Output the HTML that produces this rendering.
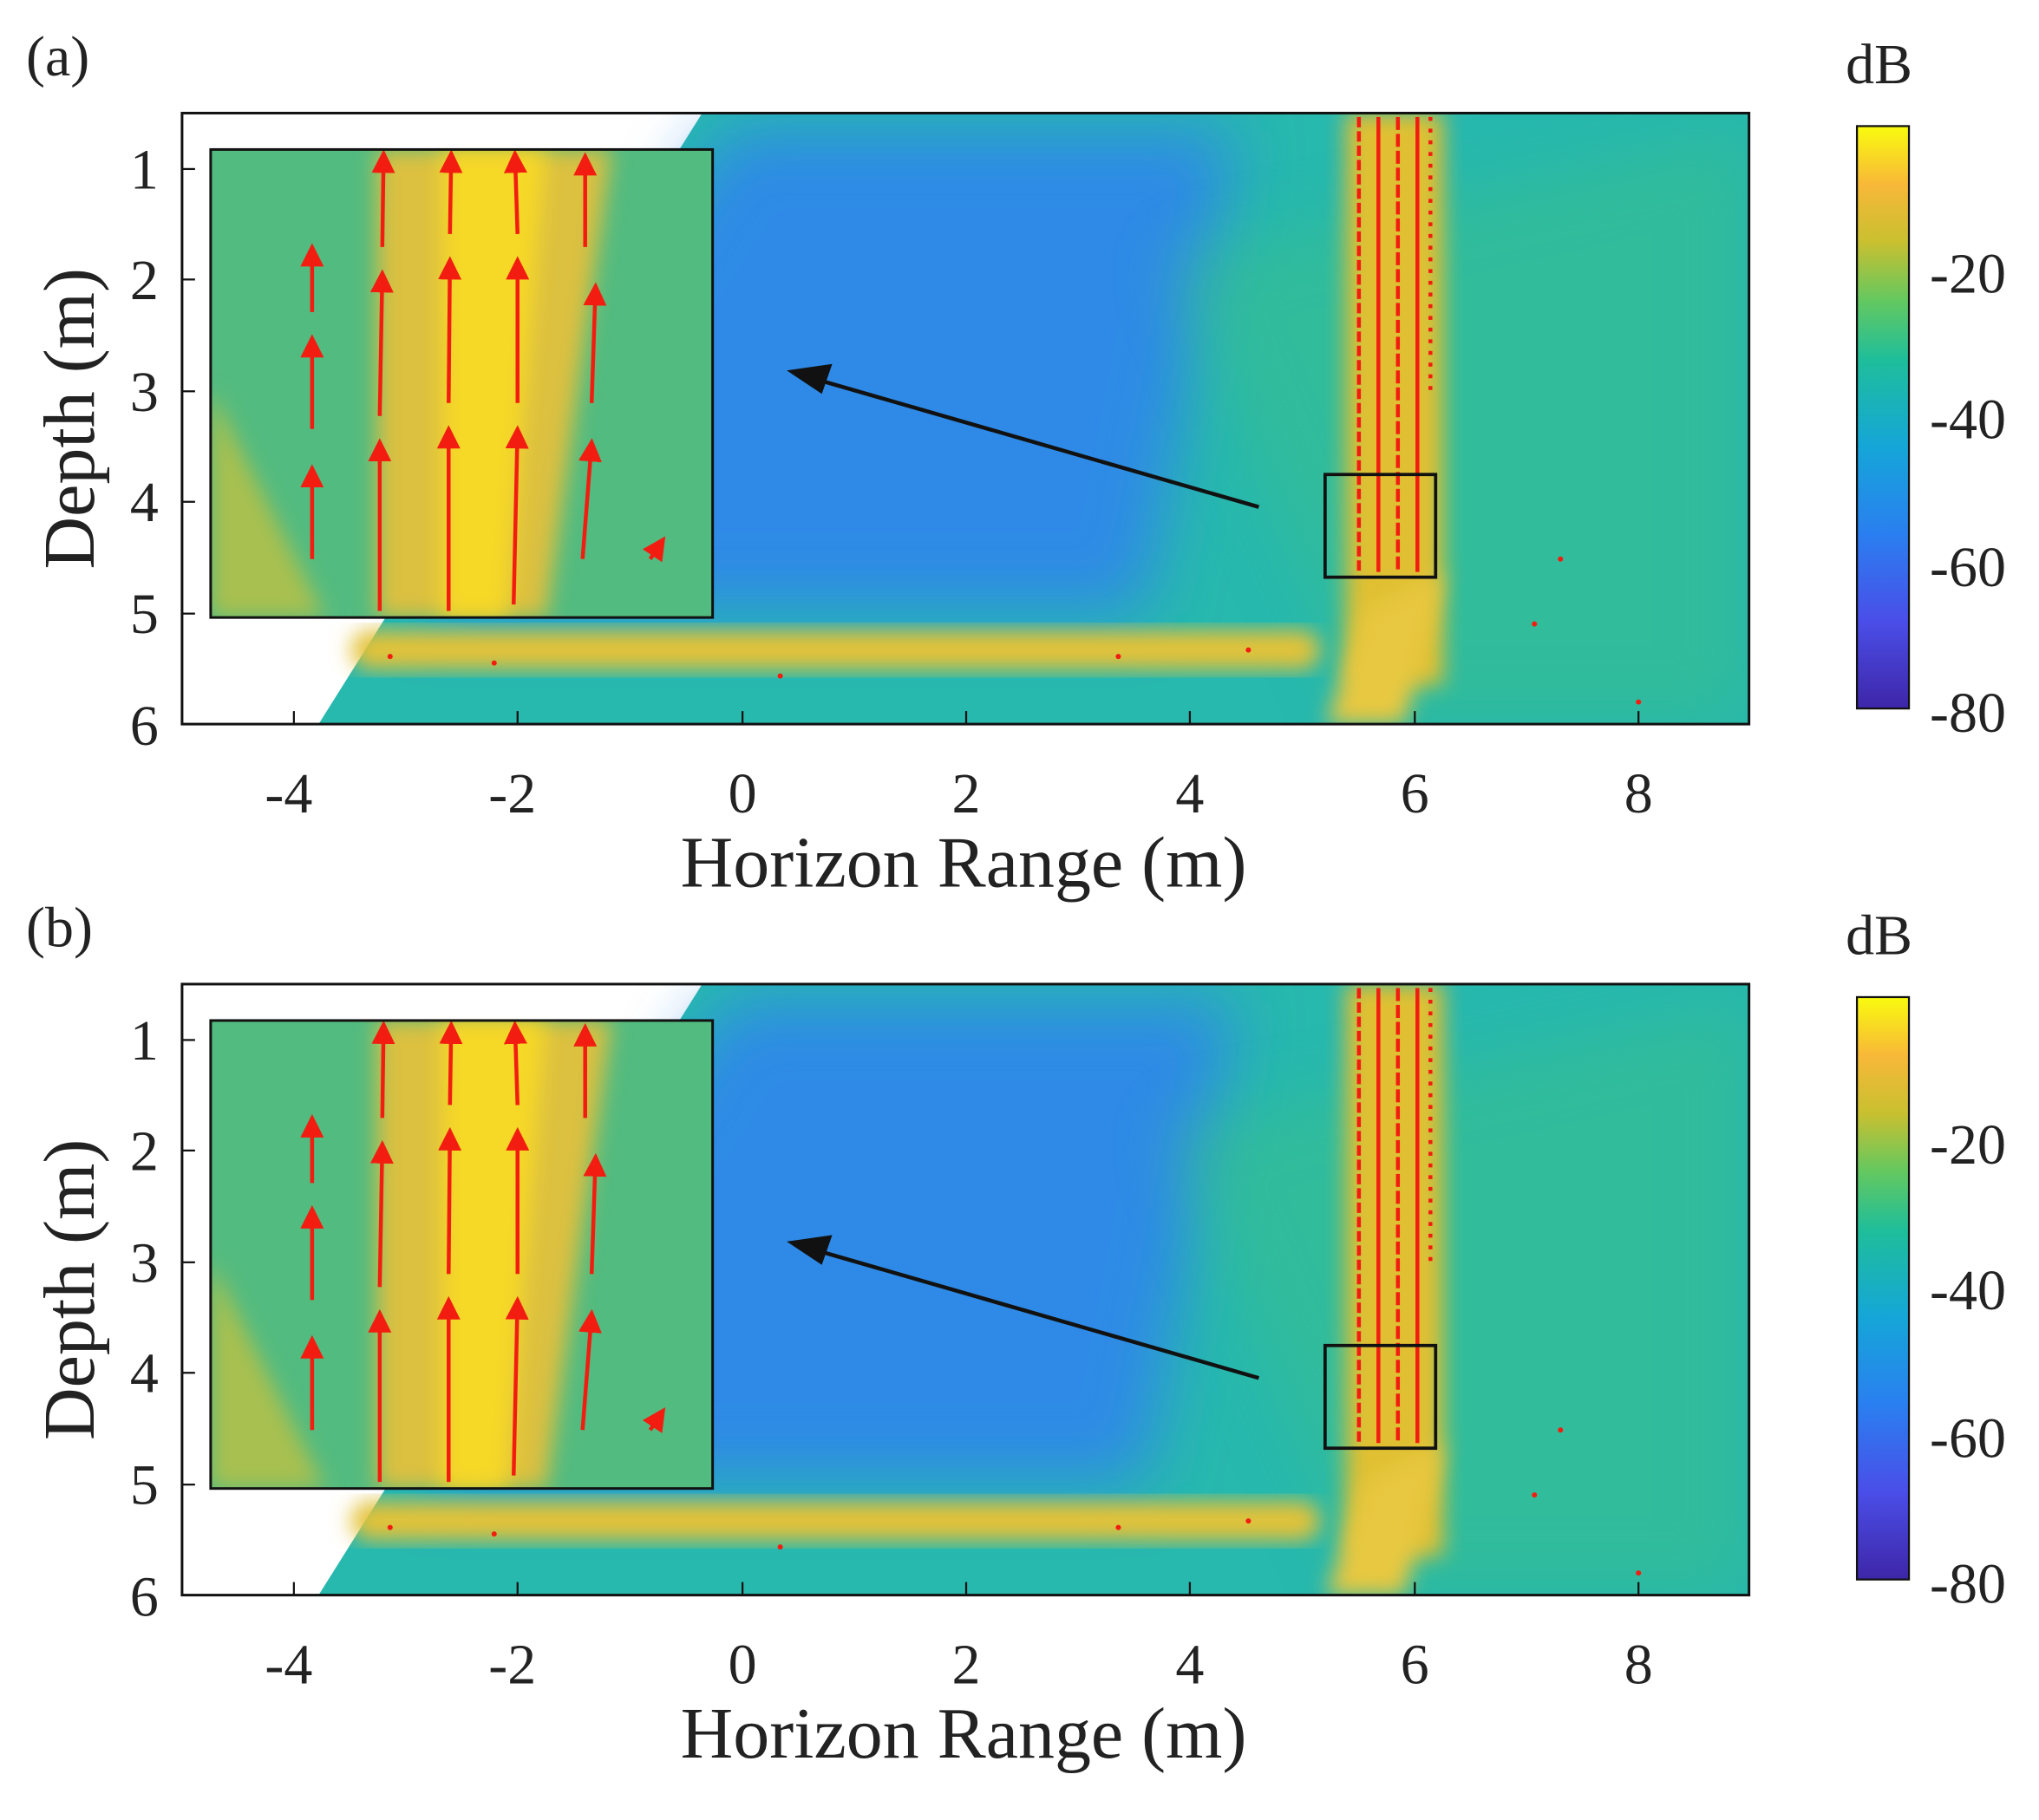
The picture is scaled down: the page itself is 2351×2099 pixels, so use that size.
<!DOCTYPE html>
<html><head><meta charset="utf-8"><style>
html,body{margin:0;padding:0;background:#fff}
svg{display:block}
text{font-family:"Liberation Serif",serif;fill:#222}
</style></head><body>
<svg width="2351" height="2099" viewBox="0 0 1568 1400" preserveAspectRatio="none" xmlns="http://www.w3.org/2000/svg">
<defs>
<filter id="bl" x="-20%" y="-20%" width="140%" height="140%"><feGaussianBlur stdDeviation="25"/></filter>
<filter id="bl2" x="-20%" y="-20%" width="140%" height="140%"><feGaussianBlur stdDeviation="8"/></filter>
<linearGradient id="cb" x1="0" y1="1" x2="0" y2="0">
<stop offset="0" stop-color="#3e26a8"/><stop offset="0.15" stop-color="#4a4ee8"/>
<stop offset="0.3" stop-color="#2a7ff0"/><stop offset="0.45" stop-color="#15a6d8"/>
<stop offset="0.6" stop-color="#1fbe9a"/><stop offset="0.7" stop-color="#63c860"/>
<stop offset="0.8" stop-color="#c8c030"/><stop offset="0.9" stop-color="#f8b838"/>
<stop offset="1" stop-color="#f9fb0e"/></linearGradient>
<marker id="ah" markerWidth="6" markerHeight="6" refX="5" refY="3" orient="auto" markerUnits="strokeWidth"><path d="M0,0 L6,3 L0,6 Z" fill="#f21d10"/></marker>
<clipPath id="ax"><rect x="140" y="87" width="1205" height="470"/></clipPath>
<clipPath id="ins"><rect x="162" y="115" width="386" height="360"/></clipPath>
<g id="field">
<g clip-path="url(#ax)">
<polygon points="540,87 1345,87 1345,557 245,557" fill="#27b8ae"/>
<polygon points="560,100 950,100 880,470 320,470" fill="#2f8ae6" filter="url(#bl)"/>
<polygon points="900,200 1345,100 1345,557 1050,557" fill="#3ac08a" opacity="0.5" filter="url(#bl)"/>
<rect x="270" y="485" width="745" height="30" rx="14" fill="#e4c238" filter="url(#bl2)"/>
<rect x="1035" y="87" width="75" height="440" fill="#e0c030" filter="url(#bl2)"/>
<polygon points="1020,557 1050,470 1110,440 1080,557" fill="#e8c840" filter="url(#bl2)"/>
<g stroke="#f21d10" stroke-width="3">
<line x1="1045" y1="90" x2="1045" y2="440" stroke-dasharray="8 3"/><line x1="1060" y1="90" x2="1060" y2="440"/>
<line x1="1075" y1="90" x2="1075" y2="440" stroke-dasharray="10 3"/><line x1="1090" y1="90" x2="1090" y2="440"/>
<line x1="1100" y1="90" x2="1100" y2="300" stroke-dasharray="3 6"/>
</g>
<g fill="#f21d10"><circle cx="300" cy="505" r="2"/><circle cx="380" cy="510" r="2"/><circle cx="600" cy="520" r="2"/><circle cx="860" cy="505" r="2"/><circle cx="960" cy="500" r="2"/><circle cx="1180" cy="480" r="2"/><circle cx="1260" cy="540" r="2"/><circle cx="1200" cy="430" r="2"/></g>
</g>
<g clip-path="url(#ins)">
<rect x="162" y="115" width="386" height="360" fill="#52bb80"/>
<polygon points="290,115 470,115 420,475 290,475" fill="#dcc040" filter="url(#bl2)"/>
<polygon points="340,115 420,115 390,475 340,475" fill="#f6d828" filter="url(#bl2)"/>
<polygon points="162,300 250,475 162,475" fill="#a8c050" filter="url(#bl2)"/>
<g stroke="#f21d10" stroke-width="3" marker-end="url(#ah)">
<line x1="240" y1="430" x2="240" y2="360"/><line x1="240" y1="330" x2="240" y2="260"/><line x1="240" y1="240" x2="240" y2="190"/>
<line x1="292" y1="470" x2="292" y2="340"/><line x1="292" y1="320" x2="294" y2="210"/><line x1="294" y1="190" x2="295" y2="118"/>
<line x1="345" y1="470" x2="345" y2="330"/><line x1="345" y1="310" x2="346" y2="200"/><line x1="346" y1="180" x2="347" y2="118"/>
<line x1="395" y1="465" x2="398" y2="330"/><line x1="398" y1="310" x2="398" y2="200"/><line x1="398" y1="180" x2="396" y2="118"/>
<line x1="448" y1="430" x2="455" y2="340"/><line x1="455" y1="310" x2="458" y2="220"/><line x1="450" y1="190" x2="450" y2="120"/>
<line x1="500" y1="430" x2="510" y2="415"/>
</g>
</g>
<rect x="162" y="115" width="386" height="360" fill="none" stroke="#111" stroke-width="2"/>
<rect x="1019" y="365" width="85" height="79" fill="none" stroke="#111" stroke-width="2.5"/>
<line x1="968" y1="390" x2="625" y2="291" stroke="#111" stroke-width="3"/>
<polygon points="605,285 640,280 632,303" fill="#111"/>
<rect x="140" y="87" width="1205" height="470" fill="none" stroke="#111" stroke-width="2"/>
<g stroke="#111" stroke-width="1.5">
<line x1="140" y1="130" x2="150" y2="130"/><line x1="140" y1="215" x2="150" y2="215"/><line x1="140" y1="301" x2="150" y2="301"/><line x1="140" y1="386" x2="150" y2="386"/><line x1="140" y1="472" x2="150" y2="472"/>
<line x1="226" y1="557" x2="226" y2="547"/><line x1="398" y1="557" x2="398" y2="547"/><line x1="571" y1="557" x2="571" y2="547"/><line x1="743" y1="557" x2="743" y2="547"/><line x1="915" y1="557" x2="915" y2="547"/><line x1="1088" y1="557" x2="1088" y2="547"/><line x1="1260" y1="557" x2="1260" y2="547"/>
</g>
<g font-size="44" text-anchor="end">
<text x="122" y="145">1</text><text x="122" y="230">2</text><text x="122" y="316">3</text><text x="122" y="401">4</text><text x="122" y="487">5</text><text x="122" y="573">6</text>
</g>
<g font-size="44" text-anchor="middle">
<text x="222" y="625">-4</text><text x="394" y="625">-2</text><text x="571" y="625">0</text><text x="743" y="625">2</text><text x="915" y="625">4</text><text x="1088" y="625">6</text><text x="1260" y="625">8</text>
</g>
<text x="741" y="682" font-size="56" text-anchor="middle">Horizon Range (m)</text>
<text transform="translate(72,322) rotate(-90)" font-size="56" text-anchor="middle">Depth (m)</text>
<rect x="1428" y="97" width="40" height="448" fill="url(#cb)" stroke="#111" stroke-width="1.5"/>
<g font-size="44"><text x="1484" y="225">-20</text><text x="1484" y="337">-40</text><text x="1484" y="451">-60</text><text x="1484" y="563">-80</text></g>
<text x="1445" y="64" font-size="44" text-anchor="middle">dB</text>
</g>
</defs>
<use href="#field"/>
<text x="20" y="58" font-size="44">(a)</text>
<use href="#field" transform="translate(0,670)"/>
<text x="20" y="728" font-size="44">(b)</text>
</svg>
</body></html>
